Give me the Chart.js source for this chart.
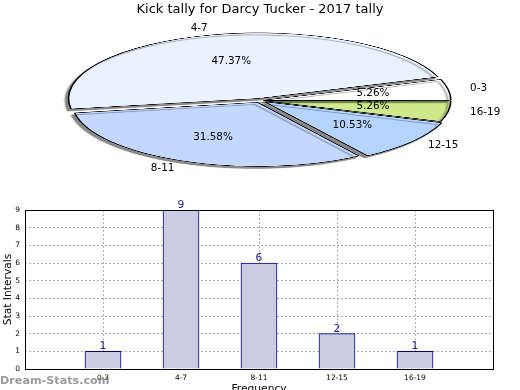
<!DOCTYPE html>
<html>
<head>
<meta charset="utf-8">
<script src="https://cdn.jsdelivr.net/npm/chart.js@4.4.1/dist/chart.umd.min.js"></script>
<style>
  body { margin: 0; background: #fff; }
  #wrap { position: relative; width: 520px; height: 390px; overflow: hidden; }
  #pie { position: absolute; left: 0; transform-origin: 0 0; }
  #bars { position: absolute; left: 0; top: 0; z-index: 2; }
</style>
</head>
<body>
<div id="wrap">
  <canvas id="pie" width="520" height="420"></canvas>
  <canvas id="bars" width="520" height="390"></canvas>
</div>
<script>
const categories = ['0-3', '4-7', '8-11', '12-15', '16-19']
const counts = [1, 9, 6, 2, 1]
const yMax = 9
const chartTitle = 'Kick tally for Darcy Tucker - 2017 tally'
const yTitle = 'Stat Intervals'
const xTitle = 'Frequency'
const watermark = 'Dream-Stats.com'

const sliceColors = ['#ffffff', '#eaf1ff', '#c4d8ff', '#b4d4ff', '#cde98c']
const sliceOffsets = [14, 24, 24, 24, 14]

const FONT = 'DejaVu Sans'
const total = counts.reduce((a, b) => a + b, 0)

// pie is drawn round and then flattened with css
const squash = 0.345
const pieTop = 27.75
const pieEl = document.getElementById('pie')
pieEl.style.top = pieTop + 'px'
pieEl.style.transform = 'scaleY(' + squash + ')'

// pie runs counter clockwise from 3 o'clock, chart.js goes clockwise, so flip
const rev = arr => arr.slice().reverse()

const pieShadow = {
  id: 'pieShadow',
  beforeDatasetsDraw (c) {
    const ctx = c.ctx
    ctx.save()
    ctx.shadowColor = 'rgba(0,0,0,0.45)'
    ctx.shadowOffsetX = -3
    ctx.shadowOffsetY = 6
    ctx.shadowBlur = 2
  },
  afterDatasetsDraw (c) { c.ctx.restore() }
}

const pieChart = new Chart(pieEl, {
  type: 'pie',
  data: {
    labels: rev(categories),
    datasets: [{
      data: rev(counts),
      backgroundColor: rev(sliceColors),
      offset: rev(sliceOffsets),
      borderColor: '#000',
      borderWidth: 1.6,
      clip: false
    }]
  },
  options: {
    responsive: false,
    animation: false,
    events: [],
    rotation: 90,
    radius: 185,
    plugins: { legend: { display: false }, tooltip: { enabled: false } }
  },
  plugins: [pieShadow]
})

const overlay = {
  id: 'overlay',
  afterDraw (c) {
    const ctx = c.ctx
    const a = c.chartArea
    ctx.save()
    // frame round the plot
    ctx.strokeStyle = '#000'
    ctx.lineWidth = 1
    ctx.strokeRect(a.left + 0.5, a.top + 0.5, a.right - a.left, a.bottom - a.top)

    // values over the bars
    ctx.fillStyle = '#1a1a8c'
    ctx.font = '10.7px "' + FONT + '"'
    ctx.textAlign = 'center'
    ctx.textBaseline = 'alphabetic'
    const bm = c.getDatasetMeta(0)
    bm.data.forEach((bar, i) => {
      const v = c.data.datasets[0].data[i]
      if (v == null) return
      ctx.fillText(String(v), bar.x, bar.y - 2)
    })

    // title
    ctx.fillStyle = '#000'
    ctx.font = '13px "' + FONT + '"'
    ctx.textBaseline = 'middle'
    ctx.fillText(chartTitle, 260, 10)

    // pie labels
    ctx.font = '10.4px "' + FONT + '"'
    const pm = pieChart.getDatasetMeta(0)
    const pd = pieChart.data
    pm.data.forEach((arc, i) => {
      const p = arc.getProps(['x', 'y', 'startAngle', 'endAngle', 'outerRadius'], true)
      const mid = (p.startAngle + p.endAngle) / 2
      const cos = Math.cos(mid)
      const sin = Math.sin(mid)
      const shift = (arc.options.offset || 0) / 4
      const r = shift + p.outerRadius * 0.6
      const pct = (pd.datasets[0].data[i] / total * 100).toFixed(2) + '%'
      ctx.textAlign = 'center'
      ctx.fillText(pct, p.x + cos * r, pieTop + (p.y + sin * r) * squash)
      const ox = p.x + cos * (p.outerRadius + 28)
      const oy = pieTop + p.y * squash + sin * (p.outerRadius * squash + 10)
      ctx.textAlign = cos >= 0 ? 'left' : 'right'
      ctx.fillText(pd.labels[i], ox, oy)
    })

    // watermark
    ctx.fillStyle = 'rgba(120,120,120,0.75)'
    ctx.font = 'bold 11.2px "' + FONT + '"'
    ctx.textAlign = 'left'
    ctx.fillText(watermark, 0, 381)
    ctx.restore()
  }
}

const tickFont = { family: FONT, size: 7.5 }
const gridOpts = { color: '#aaaaaa', drawTicks: false, offset: false }
const borderOpts = { display: false, dash: [2, 2] }

new Chart(document.getElementById('bars'), {
  type: 'bar',
  data: {
    labels: ['', ...categories, ''],
    datasets: [{
      data: [null, ...counts, null],
      backgroundColor: '#cbcbe3',
      borderColor: '#000080',
      borderWidth: 1,
      barThickness: 36
    }]
  },
  options: {
    responsive: false,
    animation: false,
    events: [],
    layout: { padding: { top: 210, right: 27, left: 0, bottom: 0 } },
    plugins: { legend: { display: false }, tooltip: { enabled: false } },
    scales: {
      x: {
        type: 'category',
        offset: false,
        grid: gridOpts,
        border: borderOpts,
        ticks: { autoSkip: false, maxRotation: 0, padding: 5, color: '#000', font: tickFont },
        title: { display: true, text: xTitle, color: '#000', padding: 0, font: { family: FONT, size: 10.7, lineHeight: 0.2 } },
        afterFit: s => { s.height = 21 }
      },
      y: {
        min: 0,
        max: yMax,
        grid: gridOpts,
        border: borderOpts,
        ticks: { stepSize: 1, padding: 5, color: '#000', font: tickFont },
        title: { display: true, text: yTitle, color: '#000', padding: 0, font: { family: FONT, size: 10.7, lineHeight: 1.6 } },
        afterFit: s => { s.width = 25 }
      }
    }
  },
  plugins: [overlay]
})
</script>
</body>
</html>
